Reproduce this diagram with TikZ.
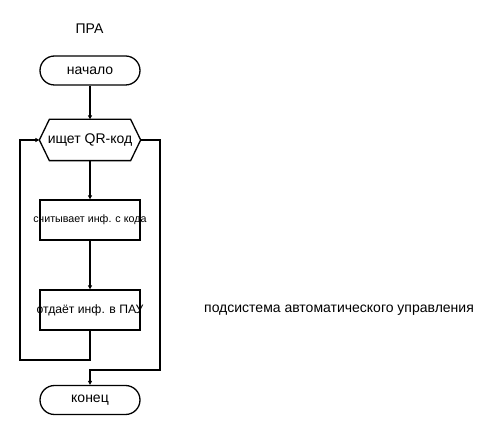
\documentclass[tikz,border=0pt]{standalone}
\usepackage{fontspec}
\setmainfont{Liberation Sans}
\usetikzlibrary{arrows.meta}
\begin{document}
\begin{tikzpicture}[x=1pt,y=-1pt,
  line width=1.3pt,
  lbl/.style={inner sep=0pt, font=\fontsize{14}{16}\selectfont},
  term/.style={draw, rounded corners=14.5pt, minimum width=100pt, minimum height=29pt, inner sep=0pt, font=\fontsize{14}{16}\selectfont},
  boxx/.style={draw, minimum width=100pt, minimum height=40pt, inner sep=0pt},
  flow/.style={-{Triangle[length=4pt,width=4pt]}}
]
\useasboundingbox (0,0) rectangle (500,435);
\node[lbl] (t) at (89.5,29) {ПРА};
\node[term] (start) at (90,70.5) {начало};
\node[minimum width=100pt, minimum height=40pt, inner sep=0pt, font=\fontsize{14}{16}\selectfont] (h) at (90,140) {ищет QR-код};
\draw (h.west) -- ([xshift=10pt]h.north west) -- ([xshift=-10pt]h.north east) -- (h.east) -- ([xshift=-10pt]h.south east) -- ([xshift=10pt]h.south west) -- cycle;
\node[boxx] (b1) at (90,220) {};
\node[inner sep=0pt, font=\fontsize{10.7}{12}\selectfont] (b1t) at (b1.center) {считывает инф. с кода};
\node[boxx] (b2) at (90,310) {};
\node[inner sep=0pt, font=\fontsize{12.2}{14}\selectfont] (b2t) at (b2.center) {отдаёт инф. в ПАУ};
\node[term] (end) at (90,400) {конец};
\node[lbl] (sub) at (339,310) {подсистема автоматического управления};
\coordinate (l1) at (90,360);
\coordinate (l2) at (20,360);
\coordinate (l3) at (20,140);
\coordinate (r1) at (160,140);
\coordinate (r2) at (160,370);
\coordinate (r3) at (90,370);
\draw[flow] (start) -- (h.north);
\draw[flow] (h.south) -- (b1);
\draw[flow] (b1) -- (b2);
\draw[flow] (b2.south) -- (l1) -- (l2) -- (l3) -- (h.west);
\draw[flow] (h.east) -- (r1) -- (r2) -- (r3) -- (end.north);
\end{tikzpicture}
\end{document}
